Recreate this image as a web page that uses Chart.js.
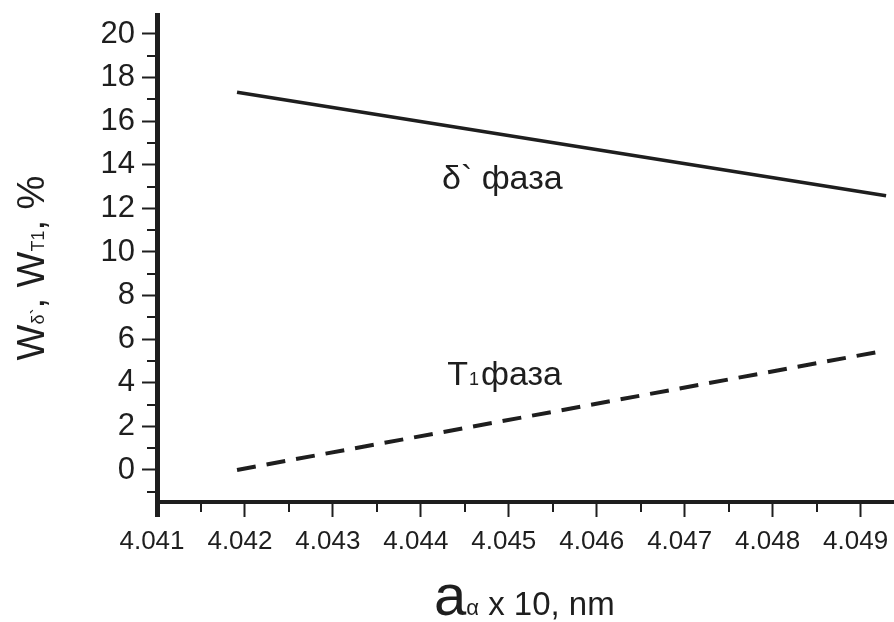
<!DOCTYPE html>
<html>
<head>
<meta charset="utf-8">
<script src="https://cdn.jsdelivr.net/npm/chart.js@4.4.0/dist/chart.umd.min.js"></script>
<style>
  html, body { margin: 0; padding: 0; background: #fff; }
  #wrap { width: 894px; height: 622px; position: relative; }
</style>
</head>
<body>
<div id="wrap"><canvas id="c" width="894" height="622"></canvas></div>
<script>
// ---- data ----
const deltaX = [4.04191, 4.04929];
const deltaY = [17.33, 12.58];
const t1X = [4.04191, 4.04922];
const t1Y = [0.0, 5.43];

const xTickValues = [4.041, 4.042, 4.043, 4.044, 4.045, 4.046, 4.047, 4.048, 4.049];
const xMinorValues = [4.0415, 4.0425, 4.0435, 4.0445, 4.0455, 4.0465, 4.0475, 4.0485];
const yTickValues = [0, 2, 4, 6, 8, 10, 12, 14, 16, 18, 20];
const yMinorValues = [-1, 1, 3, 5, 7, 9, 11, 13, 15, 17, 19];

const labelDelta = { x: 4.04424, y: 12.9, main: 'δ`', sub: '', rest: ' фаза' };
const labelT1 = { x: 4.04430, y: 3.9, main: 'T', sub: '1', rest: 'фаза' };

const INK = '#1e1e1e';
const FONT = '"Liberation Sans", Arial, sans-serif';

const overlay = {
  id: 'overlay',
  afterDraw(chart) {
    const ctx = chart.ctx;
    const xs = chart.scales.x, ys = chart.scales.y;
    ctx.save();
    ctx.strokeStyle = INK;
    ctx.fillStyle = INK;
    // minor ticks
    ctx.lineWidth = 2;
    ctx.beginPath();
    xMinorValues.forEach(v => {
      const px = Math.round(xs.getPixelForValue(v));
      ctx.moveTo(px, xs.top); ctx.lineTo(px, xs.top + 10);
    });
    yMinorValues.forEach(v => {
      const py = Math.round(ys.getPixelForValue(v));
      ctx.moveTo(ys.right, py); ctx.lineTo(ys.right - 10, py);
    });
    ctx.stroke();

    // in-plot labels
    function drawPhase(l) {
      let x = xs.getPixelForValue(l.x);
      const y = ys.getPixelForValue(l.y);
      ctx.textBaseline = 'alphabetic';
      ctx.textAlign = 'left';
      ctx.font = '34px ' + FONT;
      ctx.fillText(l.main, x, y);
      x += ctx.measureText(l.main).width;
      if (l.sub) {
        ctx.font = '18px ' + FONT;
        ctx.fillText(l.sub, x + 1, y);
        x += ctx.measureText(l.sub).width + 3;
      }
      ctx.font = '34px ' + FONT;
      ctx.fillText(l.rest, x, y);
    }
    drawPhase(labelDelta);
    drawPhase(labelT1);

    // x axis title: a_α x 10, nm
    const segsX = [
      { t: 'a', f: '58px ' + FONT },
      { t: 'α', f: '22px ' + FONT },
      { t: ' x 10, nm', f: '33px ' + FONT }
    ];
    let tw = 0;
    segsX.forEach(s => { ctx.font = s.f; s.w = ctx.measureText(s.t).width; tw += s.w; });
    let cx = 434;
    const by = 615;
    segsX.forEach(s => { ctx.font = s.f; ctx.fillText(s.t, cx, by); cx += s.w; });

    // y axis title: W_δ`, W_T1, %
    const segsY = [
      { t: 'W', f: '38px ' + FONT },
      { t: 'δ`', f: '18px ' + FONT },
      { t: ', W', f: '38px ' + FONT },
      { t: 'T1', f: '18px ' + FONT },
      { t: ', %', f: '38px ' + FONT }
    ];
    tw = 0;
    segsY.forEach(s => { ctx.font = s.f; s.w = ctx.measureText(s.t).width; tw += s.w; });
    ctx.translate(44, 268);
    ctx.rotate(-Math.PI / 2);
    let ty = -tw / 2;
    segsY.forEach(s => { ctx.font = s.f; ctx.fillText(s.t, ty, 0); ty += s.w; });
    ctx.restore();
  }
};

const ctx = document.getElementById('c').getContext('2d');
new Chart(ctx, {
  type: 'scatter',
  data: {
    datasets: [
      {
        label: 'δ` фаза',
        data: deltaX.map((x, i) => ({ x, y: deltaY[i] })),
        showLine: true,
        borderColor: INK,
        borderWidth: 3.5,
        pointRadius: 0,
        fill: false
      },
      {
        label: 'T1 фаза',
        data: t1X.map((x, i) => ({ x, y: t1Y[i] })),
        showLine: true,
        borderColor: INK,
        borderWidth: 4,
        borderDash: [19, 11],
        pointRadius: 0,
        fill: false
      }
    ]
  },
  options: {
    responsive: false,
    animation: false,
    layout: { padding: { left: 0, right: 0, top: 15, bottom: 0 } },
    plugins: { legend: { display: false }, tooltip: { enabled: false } },
    scales: {
      x: {
        type: 'linear',
        min: 4.041,
        max: 4.04938,
        afterBuildTicks: s => { s.ticks = xTickValues.map(v => ({ value: v })); },
        afterFit: s => { s.height = 120; s.paddingLeft = 0; s.paddingRight = 0; },
        border: { display: true, color: INK, width: 4 },
        grid: {
          display: true, drawOnChartArea: false, drawTicks: true,
          tickLength: 15, tickColor: INK,
          tickWidth: c => (c.index === 0 ? 5 : 2)
        },
        ticks: {
          color: INK, padding: 9, labelOffset: -5,
          font: { family: FONT, size: 26 },
          maxRotation: 0, autoSkip: false,
          callback: v => Number(v).toFixed(3)
        }
      },
      y: {
        type: 'linear',
        min: -1.47,
        max: 20.87,
        afterBuildTicks: s => { s.ticks = yTickValues.map(v => ({ value: v })); },
        afterFit: s => { s.width = 157; s.paddingTop = 0; s.paddingBottom = 0; },
        border: { display: true, color: INK, width: 5 },
        grid: {
          display: true, drawOnChartArea: false, drawTicks: true,
          tickLength: 15, tickColor: INK, tickWidth: 2
        },
        ticks: {
          color: INK, padding: 7,
          font: { family: FONT, size: 31 },
          autoSkip: false,
          callback: v => String(v)
        }
      }
    }
  },
  plugins: [overlay]
});
</script>
</body>
</html>
